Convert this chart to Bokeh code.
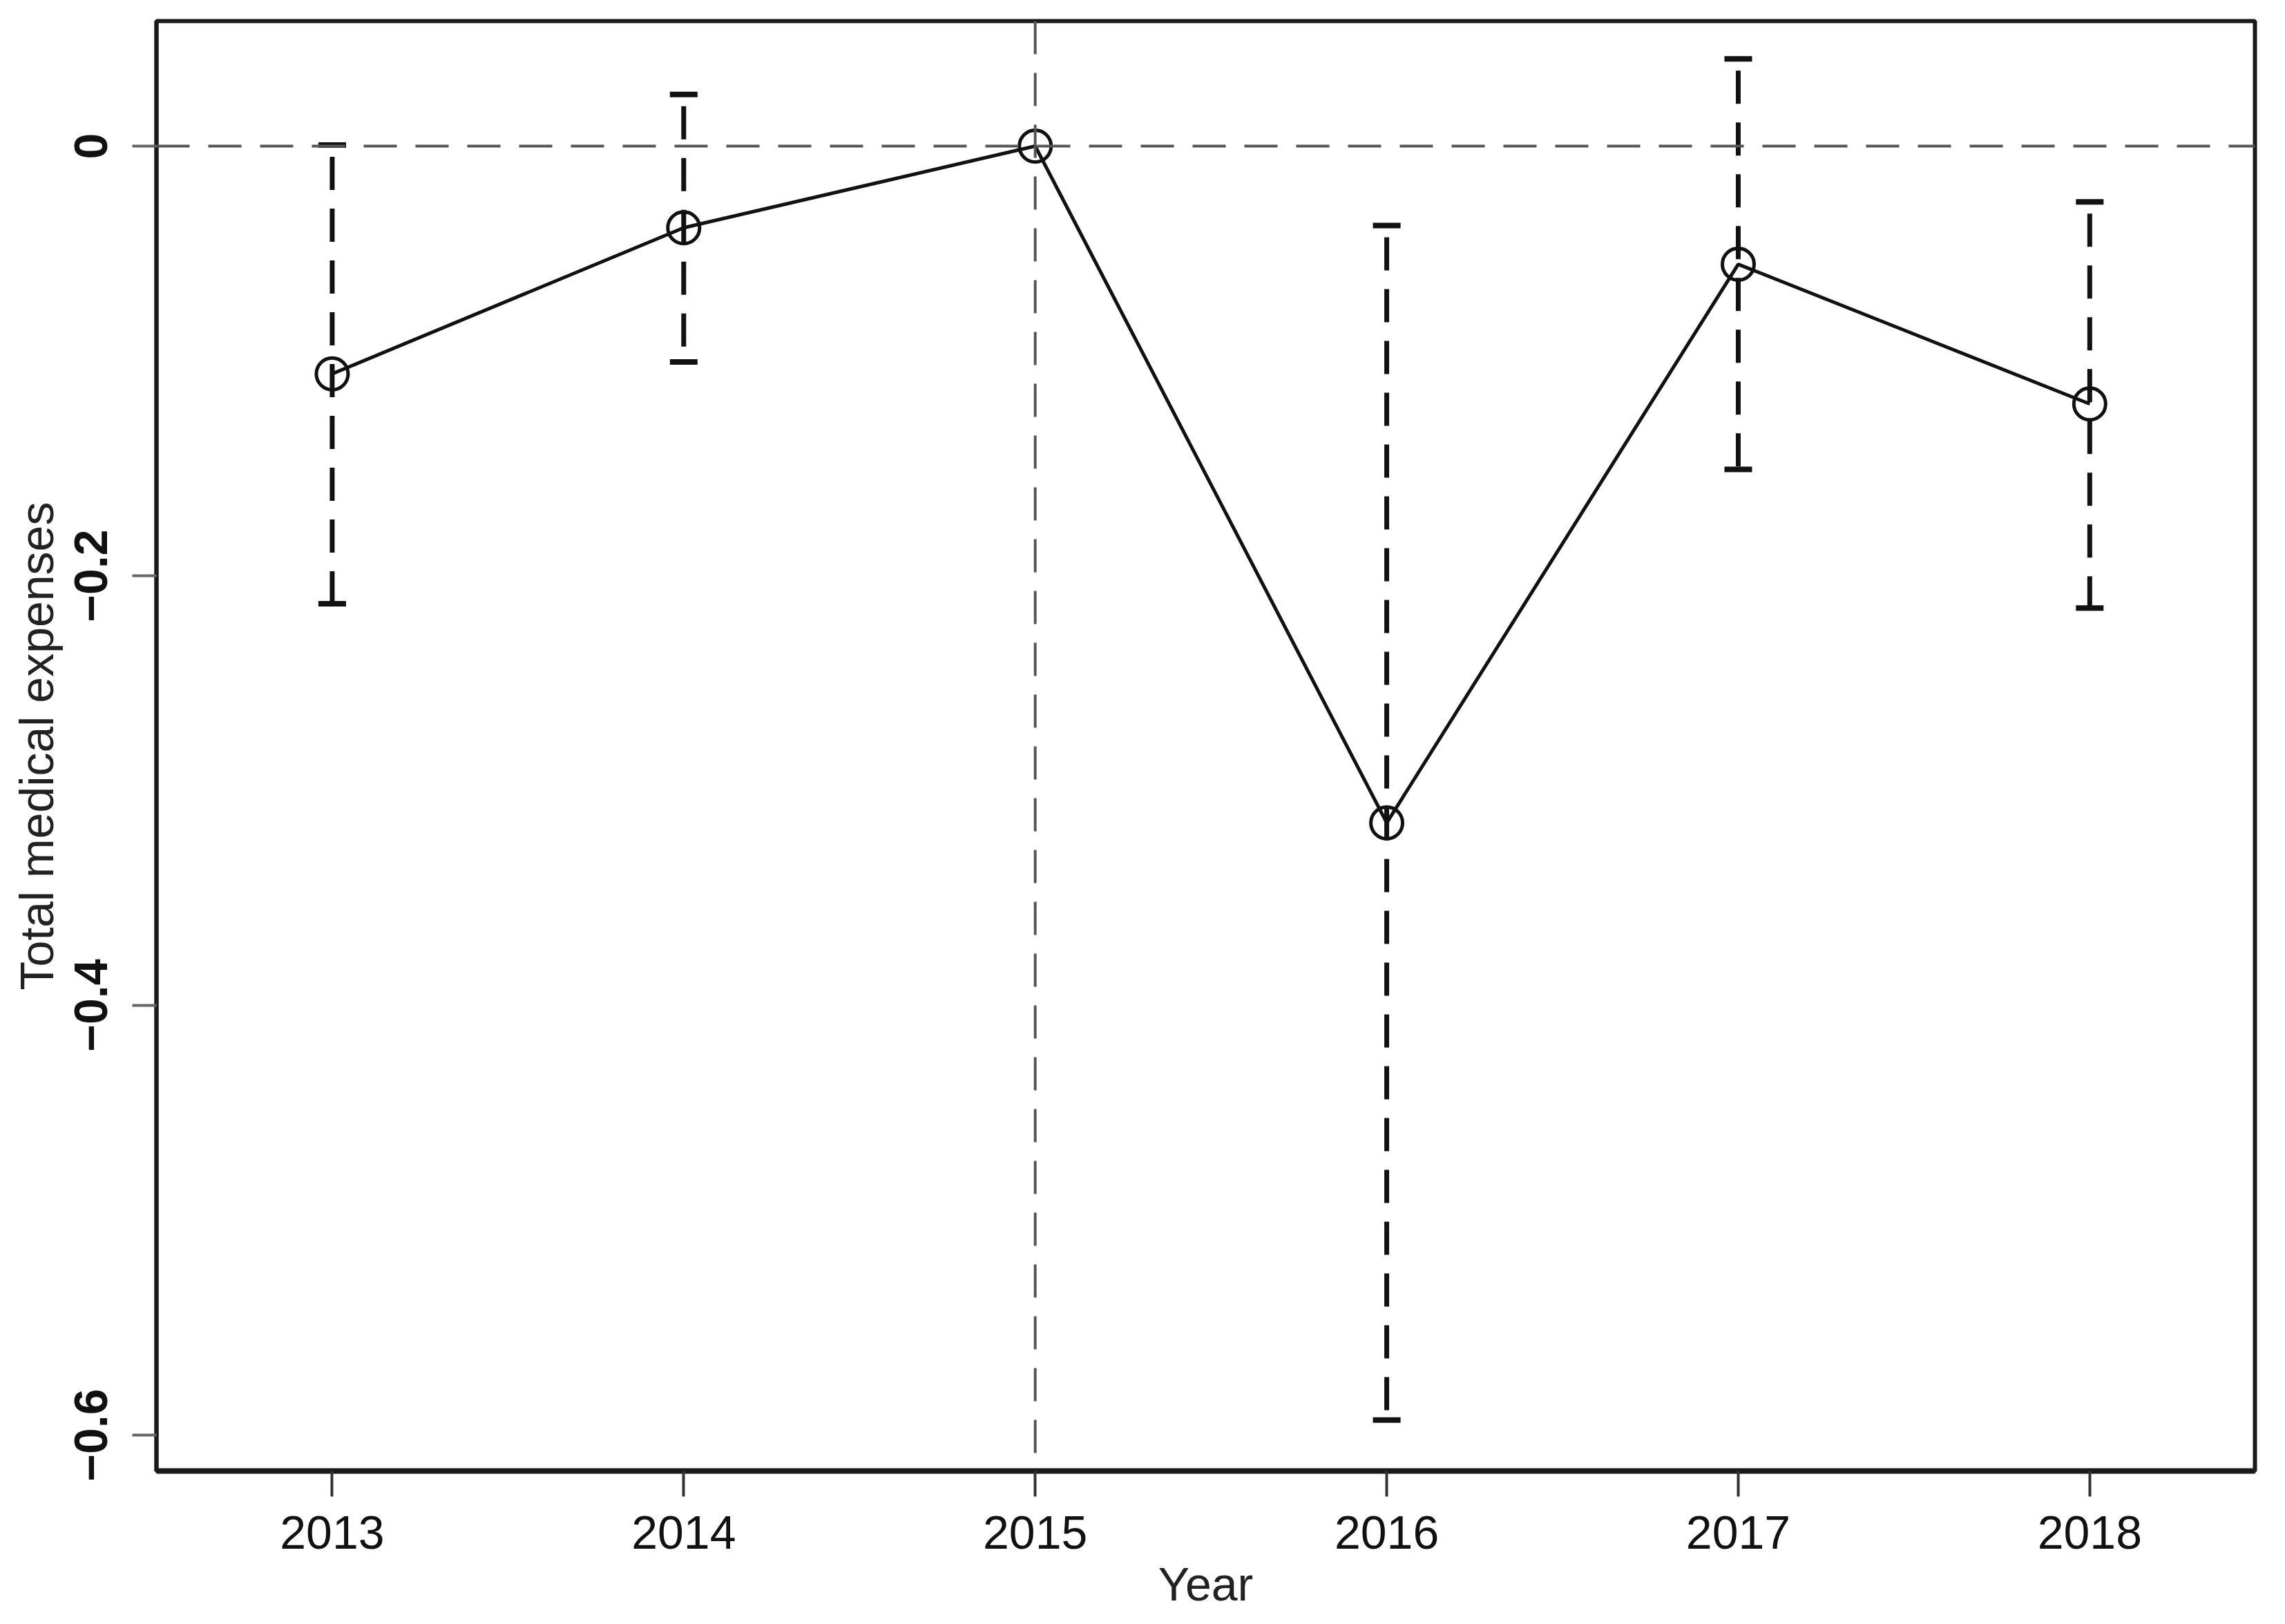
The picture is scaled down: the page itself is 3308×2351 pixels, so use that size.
import math
from bokeh.plotting import figure
from bokeh.models import Span, FixedTicker, Range1d
from bokeh.embed import file_html
from bokeh.resources import INLINE

# ---- data ----
years = [2013, 2014, 2015, 2016, 2017, 2018]
coef = [-0.106, -0.038, 0.0, -0.315, -0.055, -0.120]
ci_upper = [0.0005, 0.024, float("nan"), -0.037, 0.0406, -0.026]
ci_lower = [-0.213, -0.1005, float("nan"), -0.593, -0.1505, -0.215]
ref_year = 2015
ref_value = 0
x_ticks = [2013, 2014, 2015, 2016, 2017, 2018]
y_ticks = [0, -0.2, -0.4, -0.6]
y_tick_labels = ["0", "\u22120.2", "\u22120.4", "\u22120.6"]
x_title = "Year"
y_title = "Total medical expenses"

FONT = "Liberation Sans"

p = figure(width=3290, height=2333, output_backend="svg", toolbar_location=None,
           x_range=Range1d(2012.5, 2018.47), y_range=Range1d(-0.6167, 0.0582),
           min_border_left=226, min_border_right=26, min_border_top=30,
           min_border_bottom=198)
p.xgrid.visible = False
p.ygrid.visible = False
p.background_fill_color = "white"
p.border_fill_color = "white"
p.outline_line_color = "#1a1a1a"
p.outline_line_width = 6

# axes
p.xaxis.ticker = FixedTicker(ticks=x_ticks)
p.yaxis.ticker = FixedTicker(ticks=y_ticks)
p.yaxis.major_label_overrides = {t: l for t, l in zip(y_ticks, y_tick_labels)}
for ax in (p.xaxis, p.yaxis):
    ax.minor_tick_line_color = None
    ax.major_tick_in = 0
    ax.major_tick_line_width = 4
    ax.major_label_text_font = FONT
    ax.major_label_text_font_size = "68px"
    ax.major_label_text_color = "#111111"
    ax.axis_label_text_font = FONT
    ax.axis_label_text_font_size = "68px"
    ax.axis_label_text_font_style = "normal"
    ax.axis_label_text_color = "#222222"
    ax.axis_line_color = "#1a1a1a"
p.xaxis.major_tick_line_color = "#333333"
p.yaxis.major_tick_line_color = "#666666"
p.yaxis.major_label_text_font_style = "bold"
p.xaxis.axis_line_width = 8
p.yaxis.axis_line_width = 6
p.xaxis.major_tick_out = 37
p.yaxis.major_tick_out = 35
p.xaxis.major_label_standoff = 28
p.xaxis.axis_label_standoff = 10
p.yaxis.major_label_orientation = "vertical"
p.yaxis.major_label_standoff = 36
p.yaxis.axis_label_standoff = 15
p.xaxis.axis_label = x_title
p.yaxis.axis_label = y_title

# reference lines
p.add_layout(Span(location=ref_value, dimension="width", line_color="#555555",
                  line_width=4, line_dash="48 27"))
p.add_layout(Span(location=ref_year, dimension="height", line_color="#555555",
                  line_width=4, line_dash="48 27"))

# confidence intervals
ci_x = [y for y, u in zip(years, ci_upper) if not math.isnan(u)]
ci_u = [u for u in ci_upper if not math.isnan(u)]
ci_l = [l for l in ci_lower if not math.isnan(l)]
p.segment(x0=ci_x, y0=ci_u, x1=ci_x, y1=ci_l, line_color="#111111",
          line_width=7, line_dash="48 27", line_dash_offset=58)

# connecting line and markers
p.line(years, coef, line_color="#111111", line_width=5)
p.scatter(years, coef, marker="circle", size=46, fill_color=None,
          line_color="#111111", line_width=5)

# caps
p.scatter(ci_x + ci_x, ci_u + ci_l, marker="dash", size=40,
          line_color="#111111", line_width=8)

open("out.html", "w").write(file_html(p, INLINE))
